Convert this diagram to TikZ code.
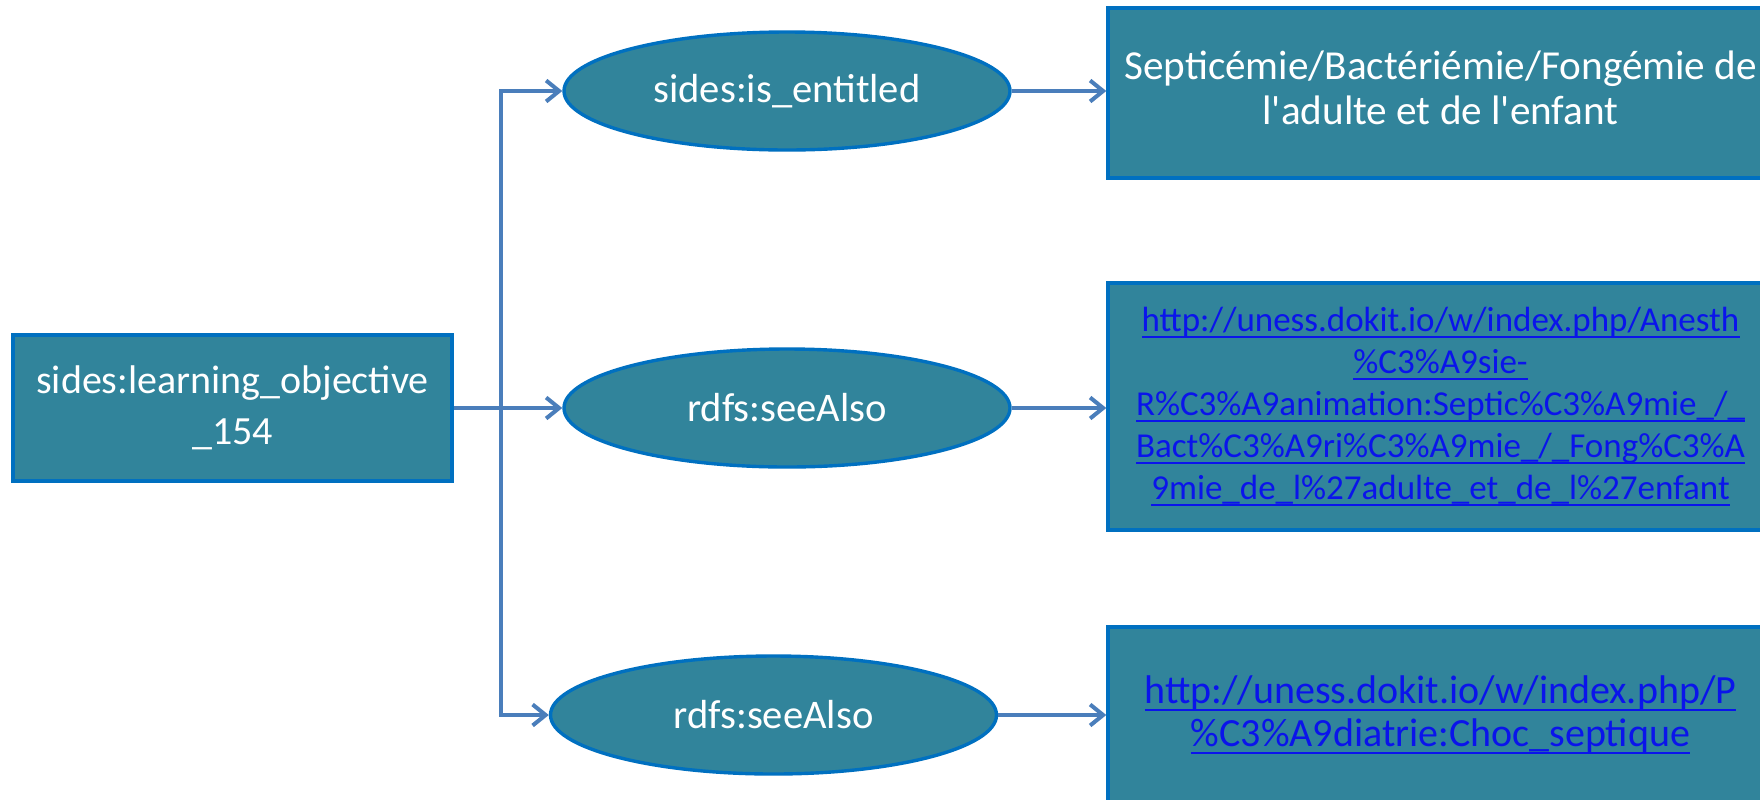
\documentclass[tikz,border=0pt]{standalone}
\usepackage{fontspec}
\setmainfont{Carlito}
\usetikzlibrary{arrows.meta,shapes.geometric}
\definecolor{tealfill}{RGB}{49,132,155}
\definecolor{edgeblue}{RGB}{0,112,192}
\definecolor{connblue}{RGB}{74,126,187}
\definecolor{linkblue}{RGB}{10,20,235}
\newcommand\lnk[1]{\sbox0{#1}\rlap{\rule[-3.6pt]{\wd0}{0.9pt}}\usebox0}
\begin{document}
\begin{tikzpicture}[x=0.5pt,y=-0.5pt,
  box/.style={rectangle, draw=edgeblue, line width=1.7pt, fill=tealfill, text=white, inner sep=0pt, align=center},
  oval/.style={ellipse, draw=edgeblue, line width=1.7pt, fill=tealfill, text=white, inner sep=0pt,
    minimum width=223pt, minimum height=59pt, font=\fontsize{20.3pt}{24.5pt}\selectfont},
  linktext/.style={text=linkblue},
  conn/.style={draw=connblue, line width=2pt},
  arr/.style={conn, -{Straight Barb[length=6.5pt,width=10.5pt]}}]
\useasboundingbox (0,0) rectangle (1760,799);
\clip (0,0) rectangle (1760,799);
\fill[white] (0,0) rectangle (1760,799);

\node[box, minimum width=219.5pt, minimum height=73pt,
  font=\fontsize{20pt}{25.5pt}\selectfont] (L) at (232.5,408)
  {sides:learning\_objective\\\_154};

\node[oval] (e1) at (787,91) {sides:is\_entitled};
\node[oval] (e2) at (787,408) {rdfs:seeAlso};
\node[oval] (e3) at (773.5,715) {rdfs:seeAlso};

\node[box, minimum width=332.5pt, minimum height=85pt,
  font=\fontsize{20.6pt}{22.5pt}\selectfont] (b1) at (1440.5,93)
  {Septicémie/Bactériémie/Fongémie de\\l\textquotesingle adulte et de l\textquotesingle enfant\\[-17pt]};

\node[box, linktext, minimum width=332.5pt, minimum height=123.5pt,
  font=\fontsize{17.5pt}{21pt}\selectfont] (b2) at (1440.5,406.5)
  {\lnk{http://uness.dokit.io/w/index.php/Anesth}\\
   \lnk{\%C3\%A9sie-}\\
   \lnk{R\%C3\%A9animation:Septic\%C3\%A9mie\_/\_}\\
   \lnk{Bact\%C3\%A9ri\%C3\%A9mie\_/\_Fong\%C3\%A}\\
   \lnk{9mie\_de\_l\%27adulte\_et\_de\_l\%27enfant}};

\node[box, linktext, minimum width=332.5pt, minimum height=88pt,
  font=\fontsize{20pt}{21.5pt}\selectfont] (b3) at (1440.5,715)
  {\lnk{http://uness.dokit.io/w/index.php/P}\\
   \lnk{\%C3\%A9diatrie:Choc\_septique}};

\coordinate (J) at (501,408);
\draw[arr] (L.east) -- (e2.west);
\draw[arr] (J) |- (e1.west);
\draw[arr] (J) |- (e3.west);
\draw[arr] (e1.east) -- (e1.east -| b1.west);
\draw[arr] (e2.east) -- (e2.east -| b2.west);
\draw[arr] (e3.east) -- (e3.east -| b3.west);
\end{tikzpicture}
\end{document}
